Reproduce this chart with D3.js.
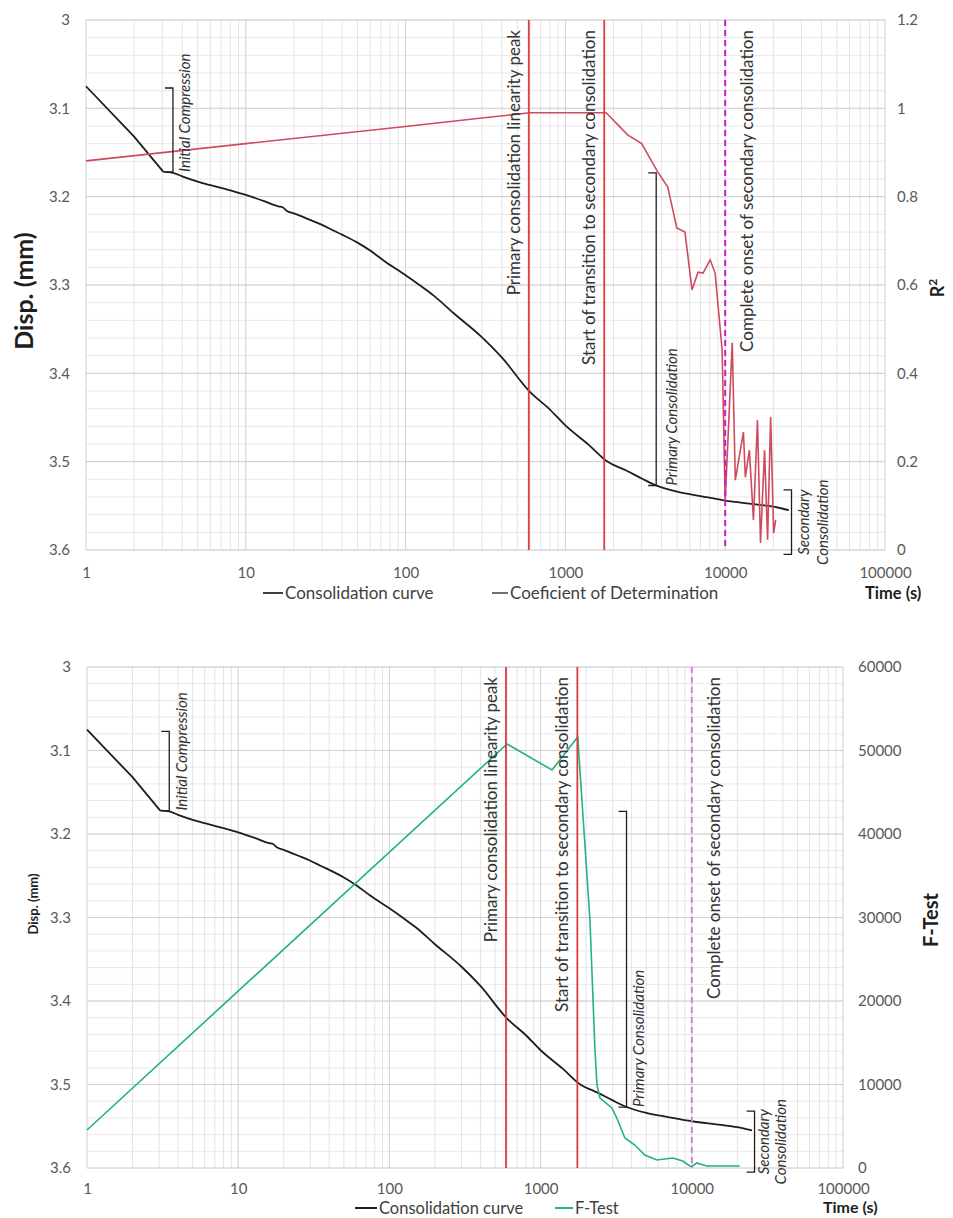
<!DOCTYPE html>
<html>
<head>
<meta charset="utf-8">
<script src="https://cdnjs.cloudflare.com/ajax/libs/d3/7.8.5/d3.min.js"></script>
<style>
  body { margin: 0; background: #fff; }
  svg { font-family: Lato, "Open Sans", sans-serif; }
</style>
</head>
<body>
<div id="chart"></div>
<script>
// consolidation curve (same test shown in both panels)
var timeS = [1, 2, 3.05, 3.5, 4, 5, 6, 8, 10, 13, 16, 17, 18, 20, 25, 30, 35, 40, 50, 60, 75,
  100, 122, 150, 200, 300, 400, 600, 800, 1000, 1400, 1800, 2400, 3000, 3600, 5000, 7000,
  10000, 15000, 20000, 25000];
var dispMm = [3.075, 3.132, 3.172, 3.173, 3.177, 3.183, 3.187, 3.193, 3.198, 3.205, 3.211, 3.212,
  3.216, 3.219, 3.226, 3.232, 3.238, 3.243, 3.252, 3.261, 3.274,
  3.289, 3.300, 3.312, 3.332, 3.359, 3.382, 3.421, 3.441, 3.459, 3.481, 3.499, 3.510, 3.519,
  3.526, 3.534, 3.539, 3.544, 3.548, 3.551, 3.555];

// coefficient of determination (top panel, right axis)
var r2Time = [1, 10, 100, 300, 600, 1800, 2450, 3000, 3780, 4370, 4980, 5600, 6200, 6760, 7270,
  8050, 8650, 9040, 9570, 10000, 11070, 11570, 13000, 13370, 14170, 15020, 15920, 16630,
  17630, 18420, 19250, 20090, 20700];
var r2Value = [0.881, 0.920, 0.959, 0.978, 0.99, 0.99, 0.94, 0.92, 0.856, 0.822, 0.729, 0.72,
  0.589, 0.629, 0.627, 0.657, 0.627, 0.55, 0.453, 0.11, 0.469, 0.158, 0.267, 0.165, 0.226,
  0.068, 0.294, 0.016, 0.226, 0.023, 0.301, 0.038, 0.068];

// F-test (bottom panel, right axis)
var fTime = [1, 600, 1190, 1760, 2120, 2290, 2360, 2470, 2960, 3190, 3610, 4200, 4890, 5870,
  7490, 8720, 9700, 10000, 10790, 12540, 20750];
var fValue = [4550, 50780, 47660, 51620, 29700, 14010, 9940, 8380, 7190, 5990, 3590, 2750, 1560,
  960, 1200, 840, 240, 200, 600, 240, 240];

// stage markers
var markerTimes = [590, 1750];
var markerLabels = ["Primary consolidation linearity peak", "Start of transition to secondary consolidation"];
var onsetTime = 10000;
var onsetLabel = "Complete onset of secondary consolidation";

// axis ticks
var timeTicks = [1, 10, 100, 1000, 10000, 100000];
var dispTicks = [3, 3.1, 3.2, 3.3, 3.4, 3.5, 3.6];
var r2Ticks = [0, 0.2, 0.4, 0.6, 0.8, 1, 1.2];
var fTicks = [0, 10000, 20000, 30000, 40000, 50000, 60000];

// stage brackets: [time, disp at top, disp at bottom]
var initialBracket = [3.5, 3.077, 3.172];
var primaryBracket = [3700, 3.173, 3.527];
var secondaryBracket = [26000, 3.532, 3.605];

var svg = d3.select("#chart")
  .append("svg")
  .attr("width", 953)
  .attr("height", 1218);

function drawPanel(p) {
  var g = svg.append("g");

  var x = d3.scaleLog().domain([1, 100000]).range([p.left, p.right]);
  var y = d3.scaleLinear().domain([3, 3.6]).range([p.top, p.bottom]);
  var y2 = d3.scaleLinear().domain(p.rightDomain).range([p.bottom, p.top]);

  // gridlines
  var minorX = [];
  for (var k = 0; k < 5; k++) {
    for (var m = 2; m <= 9; m++) minorX.push(m * Math.pow(10, k));
  }
  var minorY = d3.range(0, 31).map(function(i) { return 3 + i * 0.02; });

  g.selectAll(null).data(minorY).enter().append("line")
    .attr("x1", p.left).attr("x2", p.right)
    .attr("y1", d => y(d)).attr("y2", d => y(d))
    .attr("stroke", "#e8e8e8").attr("stroke-width", 1);
  g.selectAll(null).data(minorX).enter().append("line")
    .attr("x1", d => x(d)).attr("x2", d => x(d))
    .attr("y1", p.top).attr("y2", p.bottom)
    .attr("stroke", "#e4e4e4").attr("stroke-width", 1);
  g.selectAll(null).data(dispTicks).enter().append("line")
    .attr("x1", p.left).attr("x2", p.right)
    .attr("y1", d => y(d)).attr("y2", d => y(d))
    .attr("stroke", "#d0d0d0").attr("stroke-width", 1);
  g.selectAll(null).data(timeTicks).enter().append("line")
    .attr("x1", d => x(d)).attr("x2", d => x(d))
    .attr("y1", p.top).attr("y2", p.bottom)
    .attr("stroke", "#cfcfcf").attr("stroke-width", 1);

  // axes
  var xAxis = g.append("g")
    .attr("transform", `translate(0, ${p.bottom})`)
    .call(d3.axisBottom(x).tickValues(timeTicks).tickFormat(d3.format("d")).tickSize(0).tickPadding(p.xPad));
  var yAxis = g.append("g")
    .attr("transform", `translate(${p.left}, 0)`)
    .call(d3.axisLeft(y).tickValues(dispTicks).tickFormat(d3.format("~g")).tickSize(0).tickPadding(16));
  var y2Axis = g.append("g")
    .attr("transform", `translate(${p.right}, 0)`)
    .call(d3.axisRight(y2).tickValues(p.rightTicks).tickFormat(p.rightFormat).tickSize(0).tickPadding(p.rightPad));
  [xAxis, yAxis, y2Axis].forEach(function(a) {
    a.select(".domain").remove();
    a.selectAll("text")
      .attr("font-family", "Lato, 'Open Sans', sans-serif")
      .attr("font-size", "15px")
      .attr("fill", "#595959");
  });

  // consolidation curve: straight initial compression, smooth afterwards
  var pts = d3.zip(timeS, dispMm);
  var lineStraight = d3.line().x(d => x(d[0])).y(d => y(d[1]));
  var lineSmooth = d3.line().x(d => x(d[0])).y(d => y(d[1])).curve(d3.curveMonotoneX);
  g.append("path")
    .datum(pts.slice(0, 3))
    .attr("d", lineStraight)
    .attr("fill", "none")
    .attr("stroke", "#1e1e1e")
    .attr("stroke-width", 1.8);
  g.append("path")
    .datum(pts.slice(2))
    .attr("d", lineSmooth)
    .attr("fill", "none")
    .attr("stroke", "#1e1e1e")
    .attr("stroke-width", 1.8);

  // right axis series
  var line2 = d3.line().x(d => x(d[0])).y(d => y2(d[1]));
  g.append("path")
    .datum(d3.zip(p.seriesTime, p.seriesValue))
    .attr("d", line2)
    .attr("fill", "none")
    .attr("stroke", p.seriesColor)
    .attr("stroke-width", 1.6);

  // stage markers
  g.selectAll(null).data(markerTimes).enter().append("line")
    .attr("x1", d => x(d)).attr("x2", d => x(d))
    .attr("y1", p.top).attr("y2", p.bottom)
    .attr("stroke", "#dc3c3c").attr("stroke-width", 1.8);
  g.append("line")
    .attr("x1", x(onsetTime)).attr("x2", x(onsetTime))
    .attr("y1", p.top).attr("y2", p.bottom)
    .attr("stroke", p.onsetColor).attr("stroke-width", 2)
    .attr("stroke-dasharray", "6,4");

  var markerText = markerTimes.map((t, i) => [x(t) - 15, markerLabels[i]]);
  markerText.push([x(onsetTime) + 22, onsetLabel]);
  g.selectAll(null).data(markerText).enter().append("text")
    .attr("transform", d => `translate(${d[0]}, ${p.top + 10}) rotate(-90)`)
    .attr("text-anchor", "end")
    .attr("dy", "0.35em")
    .attr("font-size", "17px")
    .attr("fill", "#333")
    .text(d => d[1]);

  // stage brackets
  function bracket(b, texts, offsets) {
    var bx = x(b[0]), yt = y(b[1]), yb = y(b[2]);
    g.append("path")
      .attr("d", `M${bx - 8},${yt}H${bx}V${yb}H${bx - 8}`)
      .attr("fill", "none")
      .attr("stroke", "#1e1e1e")
      .attr("stroke-width", 1.3);
    texts.forEach(function(t, i) {
      g.append("text")
        .attr("transform", `translate(${bx + offsets[i]}, ${t.anchor === "start" ? yb : (yt + yb) / 2}) rotate(-90)`)
        .attr("text-anchor", t.anchor)
        .attr("dy", "0.35em")
        .attr("font-size", "15px")
        .attr("font-style", "italic")
        .attr("fill", "#333")
        .text(t.text);
    });
  }
  bracket(initialBracket, [{ text: "Initial Compression", anchor: "start" }], [12]);
  bracket(primaryBracket, [{ text: "Primary Consolidation", anchor: "start" }], [p.primaryOffset]);
  bracket(secondaryBracket, [{ text: "Secondary", anchor: "middle" }, { text: "Consolidation", anchor: "middle" }], p.secondaryOffsets);

  // axis titles
  g.append("text")
    .attr("transform", `translate(${p.leftTitle[0]}, ${p.leftTitle[1]}) rotate(-90)`)
    .attr("text-anchor", "middle")
    .attr("dy", "0.35em")
    .attr("font-size", p.leftTitle[2] + "px")
    .attr("font-weight", "bold")
    .attr("fill", "#1e1e1e")
    .text("Disp. (mm)");

  var rt = g.append("text")
    .attr("transform", `translate(${p.rightTitle[0]}, ${p.rightTitle[1]}) rotate(-90)`)
    .attr("text-anchor", "middle")
    .attr("dy", "0.35em")
    .attr("font-size", p.rightTitle[4] + "px")
    .attr("font-weight", "bold")
    .attr("fill", "#1e1e1e")
    .text(p.rightTitle[2]);
  if (p.rightTitle[3]) {
    rt.append("tspan").attr("font-size", "12px").attr("dy", "-0.6em").text(p.rightTitle[3]);
  }

  g.append("text")
    .attr("x", p.timeTitle[0]).attr("y", p.timeTitle[1])
    .attr("font-size", p.timeTitle[2] + "px")
    .attr("font-weight", "bold")
    .attr("fill", "#1e1e1e")
    .text("Time (s)");

  // legend
  p.legend.forEach(function(l) {
    g.append("line")
      .attr("x1", l.x).attr("x2", l.x + l.w)
      .attr("y1", l.y - 6).attr("y2", l.y - 6)
      .attr("stroke", l.color).attr("stroke-width", 2);
    g.append("text")
      .attr("x", l.x + l.w + 2).attr("y", l.y)
      .attr("font-size", p.legendFont + "px")
      .attr("fill", "#404040")
      .text(l.text);
  });
}

// top panel: R squared
drawPanel({
  left: 86, right: 885, top: 20, bottom: 550,
  rightDomain: [0, 1.2], rightTicks: r2Ticks, rightFormat: d3.format("~g"),
  xPad: 17, rightPad: 12,
  seriesTime: r2Time, seriesValue: r2Value, seriesColor: "#cf4a5e",
  onsetColor: "#c21fc8",
  primaryOffset: 16, secondaryOffsets: [12, 31],
  leftTitle: [24, 291, 25], rightTitle: [938, 288, "R", "2", 18],
  timeTitle: [865, 599, 16.5],
  legendFont: 17,
  legend: [
    { x: 263, w: 20, y: 599, color: "#404040", text: "Consolidation curve" },
    { x: 492, w: 16, y: 599, color: "#707070", text: "Coeficient of Determination" }
  ]
});

// bottom panel: F-test
drawPanel({
  left: 87, right: 843, top: 667, bottom: 1168,
  rightDomain: [0, 60000], rightTicks: fTicks, rightFormat: d3.format("d"),
  xPad: 15, rightPad: 15,
  seriesTime: fTime, seriesValue: fValue, seriesColor: "#22b283",
  onsetColor: "#d77ee0",
  primaryOffset: 12, secondaryOffsets: [9, 26],
  leftTitle: [33, 904, 13], rightTitle: [931, 920, "F-Test", null, 20],
  timeTitle: [823, 1213, 16],
  legendFont: 16.5,
  legend: [
    { x: 355, w: 22, y: 1214, color: "#1e1e1e", text: "Consolidation curve" },
    { x: 555, w: 18, y: 1214, color: "#22b283", text: "F-Test" }
  ]
});
</script>
</body>
</html>
